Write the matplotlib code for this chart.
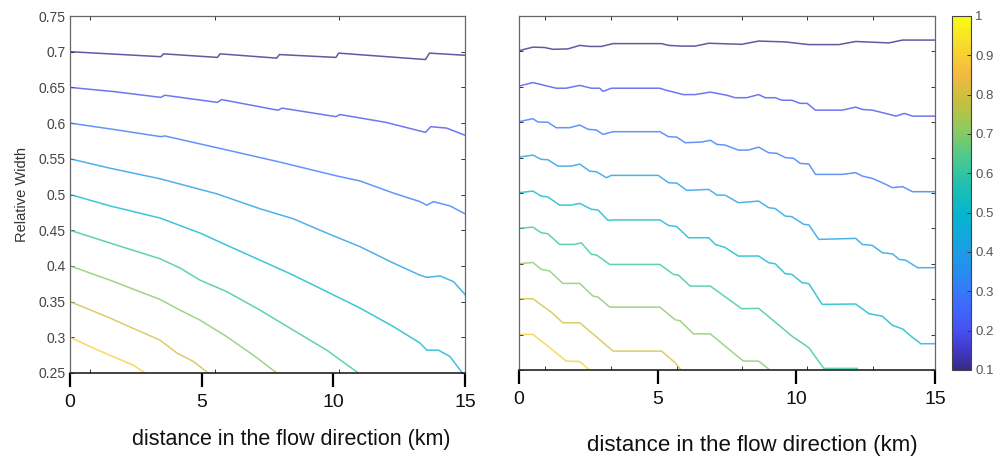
import numpy as np
import matplotlib
matplotlib.use("Agg")
import matplotlib.pyplot as plt
from matplotlib.colors import LinearSegmentedColormap, Normalize
from matplotlib.cm import ScalarMappable
from matplotlib.ticker import FixedLocator

plt.rcParams['font.family'] = ['Liberation Sans', 'DejaVu Sans']

# contour levels (same for both panels)
levels = [0.1, 0.2, 0.3, 0.4, 0.5, 0.6, 0.7, 0.8, 0.9]

# left panel: one polyline per level
left_x = [
    [0, 3.45, 3.55, 5.6, 5.7, 7.85, 7.95, 10.1, 10.2, 13.5, 13.65, 15],
    [0, 1.7, 3.45, 3.6, 5.6, 5.75, 7.9, 8.05, 10.1, 10.25, 12.0, 13.5, 13.7, 14.3, 15],
    [0, 1.5, 3.45, 3.6, 5.64, 7.9, 10.13, 11.01, 12.28, 13.29, 13.55, 13.8, 14.43, 15],
    [0, 1.5, 3.42, 5.57, 7.22, 8.48, 9.75, 11.01, 12.28, 13.29, 13.55, 14.05, 14.56, 15],
    [0, 1.52, 3.42, 4.94, 5.95, 7.22, 8.48, 9.75, 11.01, 12.28, 13.29, 13.55, 13.99, 14.43, 14.9],
    [0, 1.52, 3.42, 4.18, 4.94, 5.95, 7.22, 8.48, 9.75, 10.95],
    [0, 1.52, 3.42, 4.18, 4.94, 5.95, 6.96, 7.85],
    [0, 1.52, 2.4, 3.42, 4.06, 4.69, 5.25],
    [0, 0.76, 1.5, 2.4, 2.85],
]
left_y = [
    [0.700, 0.693, 0.697, 0.692, 0.697, 0.691, 0.696, 0.692, 0.698, 0.689, 0.698, 0.695],
    [0.650, 0.644, 0.636, 0.639, 0.629, 0.633, 0.618, 0.621, 0.609, 0.612, 0.601, 0.587, 0.595, 0.593, 0.583],
    [0.600, 0.592, 0.581, 0.582, 0.565, 0.546, 0.526, 0.519, 0.502, 0.490, 0.485, 0.490, 0.484, 0.473],
    [0.550, 0.537, 0.522, 0.501, 0.480, 0.466, 0.446, 0.427, 0.404, 0.387, 0.384, 0.386, 0.378, 0.360],
    [0.500, 0.484, 0.467, 0.446, 0.429, 0.408, 0.387, 0.364, 0.341, 0.315, 0.292, 0.282, 0.282, 0.273, 0.25],
    [0.450, 0.432, 0.410, 0.397, 0.380, 0.364, 0.338, 0.310, 0.282, 0.25],
    [0.400, 0.380, 0.353, 0.338, 0.324, 0.301, 0.275, 0.25],
    [0.350, 0.327, 0.3125, 0.296, 0.278, 0.266, 0.25],
    [0.300, 0.287, 0.275, 0.261, 0.25],
]

# right panel
right_x = [
    [0, 0.50, 0.92, 1.22, 1.76, 2.19, 2.55, 2.97, 3.39, 5.14, 5.39, 5.87, 6.35, 6.84, 8.03, 8.64,
     9.60, 10.45, 11.53, 12.14, 13.34, 13.83, 15],
    [0, 0.50, 0.92, 1.34, 1.70, 2.19, 2.61, 2.91, 3.03, 3.33, 5.08, 5.27, 5.93, 6.35, 6.90, 7.50,
     7.79, 8.21, 8.64, 8.88, 9.24, 9.48, 9.84, 10.14, 10.39, 10.69, 11.65, 12.14, 12.38, 12.74,
     13.22, 13.59, 13.89, 14.19, 15],
    [0, 0.50, 0.68, 1.04, 1.34, 1.82, 2.19, 2.49, 2.79, 3.03, 3.39, 5.08, 5.39, 5.69, 5.99, 6.59,
     6.90, 7.14, 7.43, 7.91, 8.27, 8.64, 9.0, 9.30, 9.60, 9.90, 10.14, 10.45, 10.69, 11.65, 12.14,
     12.38, 12.74, 13.10, 13.47, 13.83, 14.19, 15],
    [0, 0.50, 0.80, 1.04, 1.40, 1.88, 2.19, 2.55, 2.79, 3.15, 3.33, 5.02, 5.39, 5.69, 6.05, 6.84,
     7.14, 7.43, 7.91, 8.64, 9.0, 9.24, 9.60, 9.84, 10.27, 10.45, 10.81, 12.14, 12.38, 12.74,
     13.10, 13.47, 13.71, 13.95, 14.37, 15],
    [0, 0.50, 0.80, 1.04, 1.46, 1.88, 2.19, 2.61, 2.85, 3.21, 3.39, 5.08, 5.39, 5.69, 6.11, 6.84,
     7.08, 7.43, 7.91, 8.64, 9.0, 9.24, 9.60, 9.84, 10.21, 10.45, 10.93, 12.14, 12.62, 13.10,
     13.47, 13.83, 14.13, 14.49, 15],
    [0, 0.50, 0.80, 1.04, 1.46, 2.00, 2.25, 2.61, 2.79, 3.27, 5.08, 5.57, 5.75, 6.17, 6.90, 7.43,
     8.03, 8.64, 9.12, 9.48, 9.84, 10.45, 10.99, 12.2],
    [0, 0.50, 0.80, 1.10, 1.58, 2.19, 2.67, 2.85, 3.27, 5.08, 5.63, 5.81, 6.29, 6.90, 7.43, 8.09,
     8.64, 9.0],
    [0, 0.50, 1.16, 1.58, 2.19, 2.73, 3.39, 5.14, 5.63, 5.81],
    [0, 0.50, 1.04, 1.70, 2.19, 2.49],
]
right_y = [
    [0.701, 0.706, 0.7055, 0.703, 0.7035, 0.7085, 0.707, 0.707, 0.711, 0.711, 0.7085, 0.7075,
     0.7075, 0.7115, 0.710, 0.7146, 0.7134, 0.7096, 0.7096, 0.714, 0.712, 0.716, 0.716],
    [0.651, 0.656, 0.652, 0.648, 0.648, 0.652, 0.648, 0.648, 0.6435, 0.648, 0.648, 0.6455, 0.639,
     0.639, 0.6425, 0.638, 0.6346, 0.6346, 0.639, 0.6346, 0.6346, 0.631, 0.631, 0.6266, 0.6266,
     0.617, 0.617, 0.6213, 0.618, 0.617, 0.6124, 0.6086, 0.6124, 0.6086, 0.6086],
    [0.6007, 0.605, 0.6003, 0.600, 0.5922, 0.5922, 0.596, 0.590, 0.589, 0.5828, 0.5866, 0.5866,
     0.5795, 0.579, 0.571, 0.572, 0.5745, 0.5686, 0.5677, 0.5606, 0.5606, 0.5648, 0.5569, 0.556,
     0.550, 0.549, 0.5418, 0.541, 0.5263, 0.5263, 0.5287, 0.5239, 0.5206, 0.5145, 0.5075, 0.509,
     0.5018, 0.5018],
    [0.5507, 0.5535, 0.5475, 0.547, 0.538, 0.538, 0.5408, 0.5309, 0.530, 0.5216, 0.5249, 0.5249,
     0.5145, 0.514, 0.5037, 0.5051, 0.497, 0.497, 0.4863, 0.4886, 0.4793, 0.478, 0.4674, 0.4665,
     0.4557, 0.455, 0.4345, 0.4359, 0.4274, 0.426, 0.4157, 0.414, 0.4062, 0.405, 0.3945, 0.3945],
    [0.5004, 0.5027, 0.4956, 0.4945, 0.4829, 0.4829, 0.4853, 0.477, 0.476, 0.4613, 0.462, 0.462,
     0.4542, 0.4525, 0.4368, 0.4368, 0.4274, 0.423, 0.4109, 0.411, 0.4016, 0.400, 0.386, 0.385,
     0.3733, 0.372, 0.3427, 0.3432, 0.3295, 0.326, 0.313, 0.308, 0.2979, 0.2871, 0.2871],
    [0.450, 0.4518, 0.4439, 0.4425, 0.4274, 0.4274, 0.4296, 0.4133, 0.4125, 0.3991, 0.3991, 0.385,
     0.384, 0.3685, 0.3685, 0.3535, 0.3366, 0.337, 0.3215, 0.3097, 0.2979, 0.2815, 0.2523, 0.2523],
    [0.4001, 0.4019, 0.3921, 0.390, 0.3723, 0.3723, 0.3544, 0.353, 0.3388, 0.3388, 0.321, 0.3195,
     0.3011, 0.301, 0.2838, 0.2626, 0.2626, 0.2515],
    [0.3506, 0.3506, 0.3318, 0.3167, 0.3167, 0.2989, 0.2767, 0.2767, 0.2603, 0.2515],
    [0.3003, 0.3003, 0.2838, 0.2626, 0.2620, 0.2515],
]

x_ticks = [0, 5, 10, 15]
y_ticks = [0.25, 0.3, 0.35, 0.4, 0.45, 0.5, 0.55, 0.6, 0.65, 0.7, 0.75]
y_ticklabels = ['0.25', '0.3', '0.35', '0.4', '0.45', '0.5', '0.55', '0.6', '0.65', '0.7', '0.75']
cbar_ticks = [0.1, 0.2, 0.3, 0.4, 0.5, 0.6, 0.7, 0.8, 0.9, 1.0]
cbar_ticklabels = ['0.1', '0.2', '0.3', '0.4', '0.5', '0.6', '0.7', '0.8', '0.9', '1']
xlabel = 'distance in the flow direction (km)'
ylabel = 'Relative Width'

# the small inner ticks of the original (MATLAB) boxes
left_minor = [0.76, 5.51, 10.22]
right_minor = [0.94, 3.30, 5.69, 8.04, 10.40, 12.75]

# parula-like colormap
parula_pts = [
    (0.000, (0.208, 0.166, 0.529)),
    (0.060, (0.260, 0.230, 0.800)),
    (0.120, (0.275, 0.330, 0.960)),
    (0.200, (0.230, 0.440, 0.990)),
    (0.280, (0.150, 0.560, 0.930)),
    (0.360, (0.090, 0.640, 0.880)),
    (0.440, (0.020, 0.710, 0.810)),
    (0.520, (0.120, 0.750, 0.700)),
    (0.600, (0.300, 0.790, 0.560)),
    (0.680, (0.560, 0.790, 0.370)),
    (0.760, (0.780, 0.750, 0.250)),
    (0.840, (0.960, 0.730, 0.250)),
    (0.920, (0.970, 0.860, 0.170)),
    (1.000, (0.977, 0.984, 0.081)),
]
parula = LinearSegmentedColormap.from_list('parula', parula_pts)
norm = Normalize(0.1, 1.0)

W, H = 998, 458
fig = plt.figure(figsize=(W / 100, H / 100), dpi=100)

ax1 = fig.add_axes([70 / W, 1 - 373 / H, 395 / W, 357 / H])
ax2 = fig.add_axes([519 / W, 1 - 370 / H, 416 / W, 354 / H])
cax = fig.add_axes([952 / W, 1 - 370 / H, 19 / W, 354 / H])

for ax, xs, ys, minor in [(ax1, left_x, left_y, left_minor), (ax2, right_x, right_y, right_minor)]:
    for lev, x, y in zip(levels, xs, ys):
        ax.plot(x, y, color=parula(norm(lev)), lw=1.1, alpha=0.78, solid_joinstyle='round')
    ax.set_xlim(0, 15)
    ax.set_ylim(0.25, 0.75)
    ax.set_xticks(x_ticks)
    ax.xaxis.set_minor_locator(FixedLocator(minor))
    ax.set_yticks(y_ticks)
    ax.tick_params(axis='x', which='major', direction='out', length=10, width=1.6,
                   bottom=True, top=False, labelsize=14, pad=5, color='black', labelcolor='#111111')
    ax.tick_params(axis='x', which='minor', direction='in', length=3, width=0.7,
                   bottom=True, top=True, color='#333333')
    ax.tick_params(axis='y', which='major', direction='in', length=3, width=0.7,
                   left=True, right=True, labelsize=10, color='#333333', labelcolor='#444444', pad=3)
    for side in ['top', 'left', 'right']:
        ax.spines[side].set_color('#666666')
        ax.spines[side].set_linewidth(0.9)
    ax.spines['bottom'].set_color('#222222')
    ax.spines['bottom'].set_linewidth(1.2)

ax1.set_yticklabels(y_ticklabels)
ax2.set_yticklabels([])

sm = ScalarMappable(norm=norm, cmap=parula)
cb = fig.colorbar(sm, cax=cax, ticks=cbar_ticks)
cb.ax.set_yticklabels(cbar_ticklabels)
cb.ax.tick_params(direction='in', length=3, width=0.7, labelsize=9.5,
                  color='#333333', labelcolor='#555555', pad=3)
cb.outline.set_edgecolor('#444444')
cb.outline.set_linewidth(0.8)

fig.text(291 / W, 1 - 440 / H, xlabel, ha='center', va='center', fontsize=15.5, color='#111111')
fig.text(752 / W, 1 - 445 / H, xlabel, ha='center', va='center', fontsize=16, color='#111111')
fig.text(22 / W, 1 - 195 / H, ylabel, ha='center', va='center', rotation=90, fontsize=10.5,
         color='#333333')

fig.savefig('out.png', dpi=100)
